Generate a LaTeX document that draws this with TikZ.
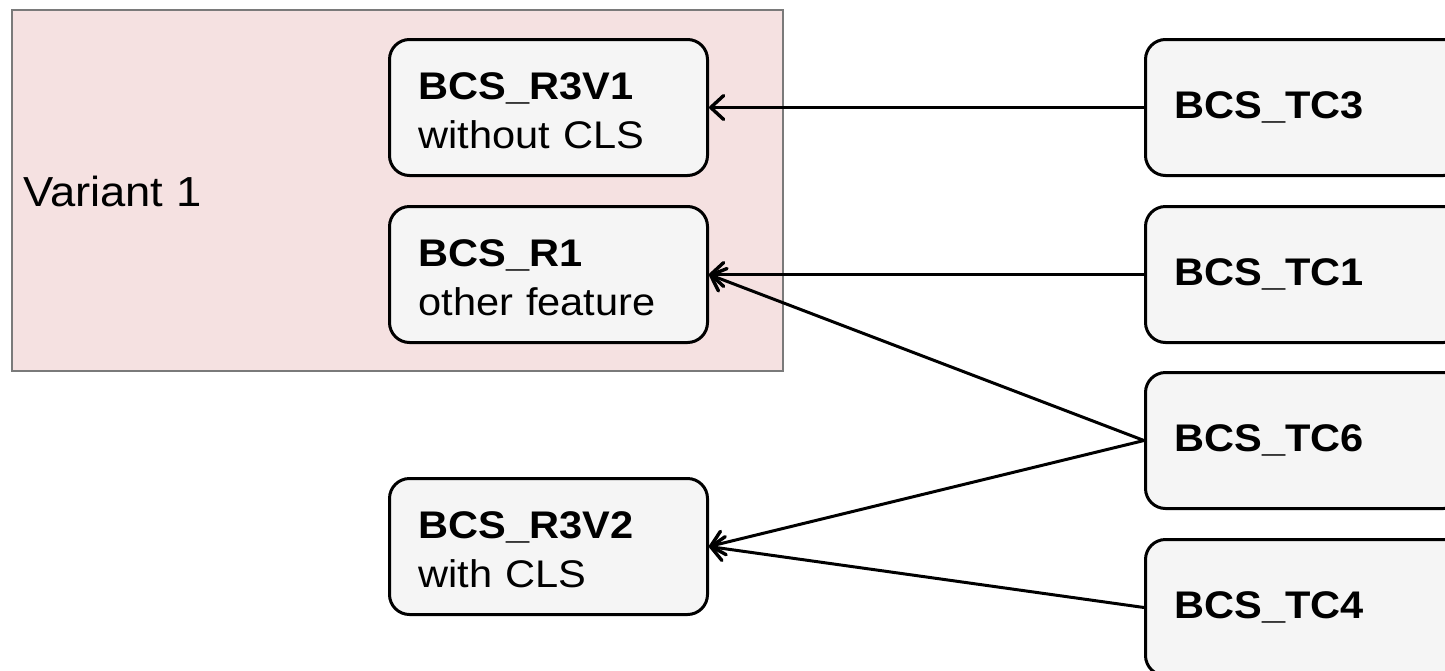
\documentclass[tikz,border=0pt]{standalone}
\usepackage{fontspec}
\usetikzlibrary{arrows.meta}
\newfontfamily\diafont[FakeStretch=1.08]{Liberation Sans}
\definecolor{groupfill}{HTML}{F5E1E1}
\definecolor{groupline}{HTML}{7A7A7A}
\definecolor{boxfill}{HTML}{F5F5F5}
\newcommand{\topstrut}{\rule{0pt}{33pt}}
\tikzset{
  reqbox/.style={draw=black, line width=3pt, fill=boxfill, rounded corners=20pt,
    minimum width=318pt, minimum height=136pt, text width=260pt, inner xsep=29pt,
    inner ysep=0pt, align=left, anchor=north west,
    font=\diafont\fontsize{38.5}{48.5}\selectfont},
  tcbox/.style={reqbox},
  link/.style={line width=3pt, line cap=round,
    -{Straight Barb[length=13pt,width=24pt,line width=3.4pt,round]}},
}
\begin{document}
\begin{tikzpicture}[x=1pt,y=-1pt]
\useasboundingbox (0,0) rectangle (1445,670);
\clip (0,0) rectangle (1445,670);

% variant group
\node[draw=groupline, line width=2pt, fill=groupfill, minimum width=771pt,
  minimum height=361pt, inner sep=0pt, anchor=north west] (grp) at (11,9) {};
\node[anchor=west, inner sep=0pt, font=\diafont\fontsize{42}{48}\selectfont]
  (grplabel) at (23,191) {Variant 1};

% requirement boxes
\node[reqbox] (r3v1) at (388,38)  {\topstrut\textbf{BCS\_R3V1}\\without CLS};
\node[reqbox] (r1)   at (388,205) {\topstrut\textbf{BCS\_R1}\\other feature};
\node[reqbox] (r3v2) at (388,477) {\topstrut\textbf{BCS\_R3V2}\\with CLS};

% test case boxes
\node[tcbox] (tc3) at (1144,38)  {\textbf{BCS\_TC3}};
\node[tcbox] (tc1) at (1144,205) {\textbf{BCS\_TC1}};
\node[tcbox] (tc6) at (1144,371) {\textbf{BCS\_TC6}};
\node[tcbox] (tc4) at (1144,538) {\textbf{BCS\_TC4}};

% links
\draw[link] (tc3.west) -- (r3v1.east);
\draw[link] (tc1.west) -- (r1.east);
\draw[link] (tc6.west) -- (r1.east);
\draw[link] (tc6.west) -- (r3v2.east);
\draw[link] (tc4.west) -- (r3v2.east);
\end{tikzpicture}
\end{document}
